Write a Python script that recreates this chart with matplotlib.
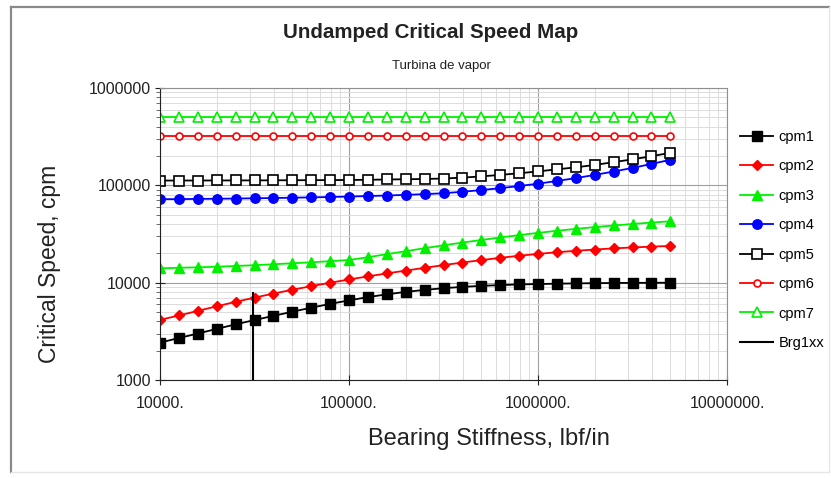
import matplotlib
matplotlib.use('Agg')
import matplotlib.pyplot as plt
from matplotlib.lines import Line2D
from matplotlib.ticker import FixedLocator, LogLocator, NullFormatter

plt.rcParams['font.family'] = ['Liberation Sans', 'DejaVu Sans']

stiffness = [10000, 12589, 15849, 19953, 25119, 31623, 39811, 50119, 63096, 79433,
             100000, 125893, 158489, 199526, 251189, 316228, 398107, 501187, 630957, 794328,
             1000000, 1258925, 1584893, 1995262, 2511886, 3162278, 3981072, 5011872]

cpm1 = [2420, 2700, 3000, 3350, 3730, 4130, 4560, 5030, 5530, 6050,
        6580, 7100, 7590, 8040, 8430, 8770, 9050, 9270, 9440, 9580,
        9680, 9760, 9830, 9880, 9920, 9950, 9970, 9990]
cpm2 = [4150, 4600, 5130, 5720, 6350, 7020, 7730, 8450, 9200, 9980,
        10780, 11600, 12450, 13300, 14200, 15150, 16100, 17050, 18000, 18900,
        19750, 20550, 21250, 21900, 22500, 23000, 23450, 23850]
cpm3 = [14050, 14220, 14380, 14590, 14830, 15120, 15450, 15820, 16190, 16620,
        17100, 18260, 19610, 21050, 22600, 24210, 25800, 27450, 29110, 30810,
        32460, 34120, 35690, 37230, 38680, 40080, 41430, 42710]
cpm4 = [72000, 72200, 72500, 72800, 73200, 73600, 74100, 74600, 75200, 75900,
        76700, 77600, 78600, 79800, 81200, 82900, 85900, 89400, 93500, 98300,
        104000, 110800, 118700, 127900, 138600, 151000, 165800, 183000]
cpm5 = [112000, 112000, 112100, 112200, 112300, 112400, 112600, 112800, 113000, 113200,
        113500, 114000, 114800, 115500, 116200, 117500, 120000, 123500, 128000, 133000,
        139000, 146000, 153000, 162000, 173000, 185000, 199000, 216000]
cpm6 = [325000, 325000, 325000, 325000, 325000, 325000, 325000, 325000, 325000, 325000,
        325000, 325000, 325000, 325000, 325000, 325000, 325000, 325000, 325000, 325000,
        325000, 325000, 325000, 325000, 325000, 325000, 325000, 325000]
cpm7 = [505000, 505000, 505000, 505000, 505000, 505000, 505000, 505000, 505000, 505000,
        505000, 505000, 505000, 505000, 505000, 505000, 505000, 505000, 505000, 505000,
        505000, 505000, 505000, 505000, 505000, 505000, 505000, 505000]

brg_x = [31000, 31000]
brg_y = [1000, 7900]

x_ticks = [10000, 100000, 1000000, 10000000]
x_tick_labels = ['10000.', '100000.', '1000000.', '10000000.']
y_ticks = [1000, 10000, 100000, 1000000]
y_tick_labels = ['1000', '10000', '100000', '1000000']

fig = plt.figure(figsize=(8.31, 4.78), dpi=100)
ax = fig.add_axes([160/831, 1-380/478, (727-160)/831, (380-88)/478])

lw = 1.3
ax.plot(stiffness, cpm1, color='black', lw=lw, marker='s', ms=6.5, label='cpm1')
ax.plot(stiffness, cpm2, color='#ff0000', lw=lw, marker='D', ms=5, label='cpm2')
ax.plot(stiffness, cpm3, color='#00f000', lw=lw, marker='^', ms=6.5, label='cpm3')
ax.plot(stiffness, cpm4, color='#0000ff', lw=lw, marker='o', ms=6.8, label='cpm4')
ax.plot(stiffness, cpm5, color='black', lw=lw, marker='s', ms=6.5, mfc='white', mew=1.2, label='cpm5')
ax.plot(stiffness, cpm6, color='#ff0000', lw=lw, marker='o', ms=5, mfc='white', mew=1.2, label='cpm6')
ax.plot(stiffness, cpm7, color='#00f000', lw=lw, marker='^', ms=6.5, mfc='white', mew=1.2, label='cpm7')
ax.plot(brg_x, brg_y, color='black', lw=1.5, label='Brg1xx')

ax.set_xscale('log')
ax.set_yscale('log')
ax.set_xlim(10000, 10000000)
ax.set_ylim(1000, 1000000)

ax.xaxis.set_major_locator(FixedLocator(x_ticks))
ax.set_xticklabels(x_tick_labels)
ax.yaxis.set_major_locator(FixedLocator(y_ticks))
ax.set_yticklabels(y_tick_labels)
ax.xaxis.set_minor_locator(LogLocator(base=10, subs=range(2, 10)))
ax.yaxis.set_minor_locator(LogLocator(base=10, subs=range(2, 10)))
ax.xaxis.set_minor_formatter(NullFormatter())
ax.yaxis.set_minor_formatter(NullFormatter())

ax.grid(which='major', color='#a0a0a0', lw=0.8)
ax.grid(which='minor', color='#dcdcdc', lw=0.7)
ax.set_axisbelow(True)

ax.tick_params(axis='both', which='major', direction='inout', length=7, width=0.8,
               labelsize=11.5, colors='#222222', pad=3)
ax.tick_params(axis='x', which='major', pad=8)
ax.tick_params(axis='y', which='minor', direction='out', length=3, width=0.6, color='#555555')
ax.tick_params(axis='x', which='minor', length=0)

for side in ['top', 'right']:
    ax.spines[side].set_color('#909090')
for side in ['left', 'bottom']:
    ax.spines[side].set_color('#222222')

fig.text(50/831, 1-264/478, 'Critical Speed, cpm', fontsize=16.5, color='#222222',
         rotation=90, ha='center', va='center')
fig.text(489/831, 1-439/478, 'Bearing Stiffness, lbf/in', fontsize=17, color='#222222',
         ha='center', va='center')
fig.text(431/831, 1-32/478, 'Undamped Critical Speed Map', fontsize=14.8, fontweight='bold',
         color='#222222', ha='center', va='center')
fig.text(441/831, 1-66/478, 'Turbina de vapor', fontsize=9.5, color='#222222',
         ha='center', va='center')

leg = fig.legend(loc='upper left', bbox_to_anchor=(734/831, 1-124/478), frameon=False,
                 fontsize=10.5, handlelength=2.3, handletextpad=0.35, labelspacing=1.06,
                 borderaxespad=0)

# outer chart border
fig.add_artist(Line2D([11/831, 11/831], [1-7/478, 1-472/478], color='#8a8a8a', lw=1.6))
fig.add_artist(Line2D([11/831, 829/831], [1-7/478, 1-7/478], color='#8a8a8a', lw=1.6))
fig.add_artist(Line2D([829/831, 829/831], [1-7/478, 1-472/478], color='#e6e6e6', lw=1))
fig.add_artist(Line2D([11/831, 829/831], [1-472/478, 1-472/478], color='#e6e6e6', lw=1))

fig.savefig('out.png', dpi=100)
